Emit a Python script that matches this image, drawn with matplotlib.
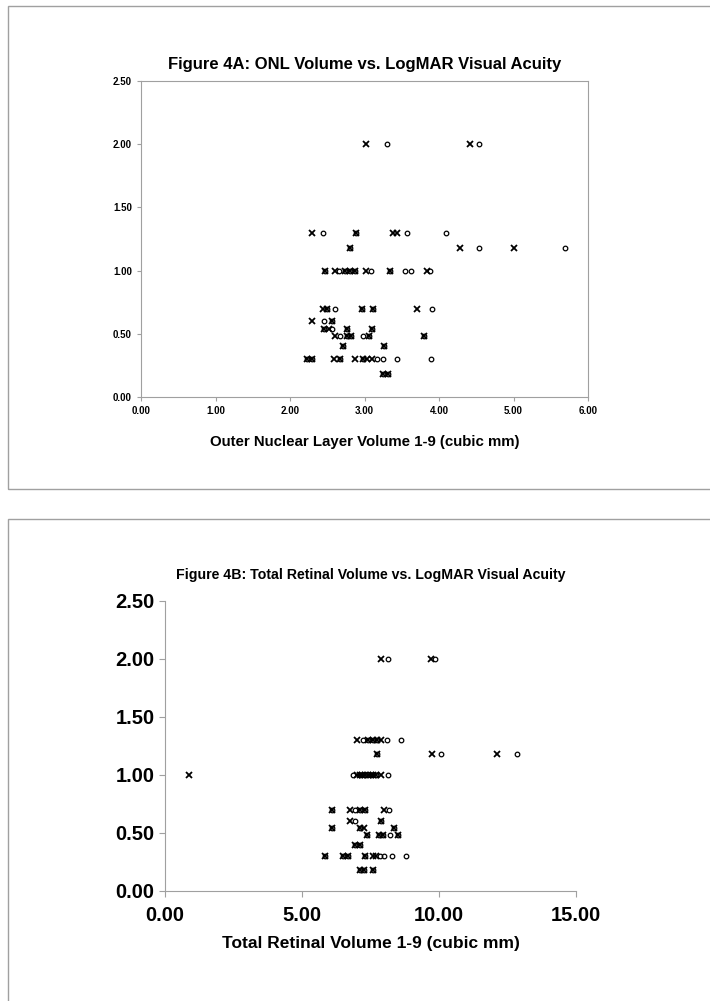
import matplotlib
matplotlib.use("Agg")
import matplotlib.pyplot as plt
from matplotlib.patches import Rectangle

plt.rcParams['font.family'] = ['Liberation Sans', 'DejaVu Sans']
plt.rcParams['font.weight'] = 'bold'

# Figure 4A: ONL volume (cubic mm) vs LogMAR, two marker series
onl_x_vol = [3.02, 4.42,
             2.30, 2.89, 3.38, 3.43,
             2.81, 4.28, 5.01,
             2.47, 2.60, 2.74, 2.80, 2.87, 3.02, 3.34, 3.84,
             2.44, 2.50, 2.96, 3.11, 3.70,
             2.30, 2.56,
             2.46, 2.52, 2.76, 3.10,
             2.60, 2.76, 2.82, 3.06, 3.80,
             2.71, 3.26,
             2.23, 2.30, 2.59, 2.67, 2.87, 2.98, 3.03, 3.10,
             3.25, 3.31]
onl_x_va = [2.00] * 2 + [1.30] * 4 + [1.18] * 3 + [1.00] * 8 + [0.70] * 5 + \
           [0.60] * 2 + [0.54] * 4 + [0.48] * 5 + [0.40] * 2 + [0.30] * 8 + [0.18] * 2

onl_o_vol = [3.30, 4.54,
             2.44, 2.89, 3.57, 4.09,
             2.81, 4.54, 5.69,
             2.47, 2.66, 2.74, 2.80, 2.87, 3.09, 3.34, 3.54, 3.62, 3.88,
             2.50, 2.60, 2.96, 3.11, 3.90,
             2.45, 2.56,
             2.46, 2.56, 2.76, 3.10,
             2.67, 2.76, 2.82, 2.98, 3.06, 3.80,
             2.71, 3.26,
             2.23, 2.30, 2.67, 2.98, 3.17, 3.25, 3.44, 3.89,
             3.25, 3.31]
onl_o_va = [2.00] * 2 + [1.30] * 4 + [1.18] * 3 + [1.00] * 10 + [0.70] * 5 + \
           [0.60] * 2 + [0.54] * 4 + [0.48] * 6 + [0.40] * 2 + [0.30] * 8 + [0.18] * 2

# Figure 4B: total retinal volume (cubic mm) vs LogMAR
trv_x_vol = [7.87, 9.69,
             6.99, 7.40, 7.58, 7.72, 7.87,
             7.72, 9.76, 12.13,
             0.87, 7.0, 7.1, 7.2, 7.3, 7.4, 7.5, 7.6, 7.7, 7.9,
             6.08, 6.74, 7.1, 7.3, 8.01,
             6.74, 7.87,
             6.08, 7.1, 7.25, 8.34,
             7.36, 7.8, 7.97, 8.52,
             6.92, 7.1,
             5.83, 6.5, 6.67, 7.29, 7.58, 7.7,
             7.1, 7.25, 7.58]
trv_x_va = [2.00] * 2 + [1.30] * 5 + [1.18] * 3 + [1.00] * 10 + [0.70] * 5 + \
           [0.60] * 2 + [0.54] * 4 + [0.48] * 4 + [0.40] * 2 + [0.30] * 6 + [0.18] * 3

trv_o_vol = [8.13, 9.84,
             7.21, 7.40, 7.58, 7.72, 8.09, 8.60,
             7.72, 10.09, 12.86,
             6.85, 7.1, 7.3, 7.5, 7.7, 8.13,
             6.08, 6.92, 7.1, 7.3, 8.16,
             6.92, 7.87,
             6.08, 7.1, 8.34,
             7.36, 7.8, 7.97, 8.2, 8.52,
             6.92, 7.1,
             5.83, 6.5, 6.67, 7.29, 7.85, 8.0, 8.3, 8.78,
             7.1, 7.25, 7.58]
trv_o_va = [2.00] * 2 + [1.30] * 6 + [1.18] * 3 + [1.00] * 6 + [0.70] * 5 + \
           [0.60] * 2 + [0.54] * 3 + [0.48] * 5 + [0.40] * 2 + [0.30] * 8 + [0.18] * 3

W, H = 710, 1001
fig = plt.figure(figsize=(W / 100, H / 100), dpi=100)

# chart frames
fig.add_artist(Rectangle((8 / W, 1 - 489 / H), 720 / W, 483 / H, transform=fig.transFigure,
                         fill=False, ec='#a0a0a0', lw=1))
fig.add_artist(Rectangle((8 / W, 1 - 1010 / H), 720 / W, 491 / H, transform=fig.transFigure,
                         fill=False, ec='#a0a0a0', lw=1))


def px_axes(left, right, top, bottom):
    return fig.add_axes([left / W, 1 - bottom / H, (right - left) / W, (bottom - top) / H])


def draw(ax, xv, xy, ov, oy, ms_x, ms_o):
    ax.plot(xv, xy, 'x', color='black', ms=ms_x, mew=1.3, ls='none')
    ax.plot(ov, oy, 'o', mfc='none', mec='black', ms=ms_o, mew=0.9, ls='none')


# --- top chart ---
ax1 = px_axes(141, 588, 81, 397)
draw(ax1, onl_x_vol, onl_x_va, onl_o_vol, onl_o_va, 4.5, 3.3)
ax1.set_xlim(0, 6)
ax1.set_ylim(0, 2.5)
ax1.set_xticks([0, 1, 2, 3, 4, 5, 6])
ax1.set_yticks([0, 0.5, 1.0, 1.5, 2.0, 2.5])
ax1.xaxis.set_major_formatter(matplotlib.ticker.FormatStrFormatter('%.2f'))
ax1.yaxis.set_major_formatter(matplotlib.ticker.FormatStrFormatter('%.2f'))
for s in ax1.spines.values():
    s.set_color('#a0a0a0')
ax1.tick_params(colors='#a0a0a0', labelcolor='black', labelsize=7, length=3, width=0.8)
for lab in ax1.get_xticklabels() + ax1.get_yticklabels():
    lab.set_fontweight('bold')
ax1.set_title('Figure 4A: ONL Volume vs. LogMAR Visual Acuity', fontsize=12, fontweight='bold', pad=9)
ax1.set_xlabel('Outer Nuclear Layer Volume 1-9 (cubic mm)', fontsize=10.8, fontweight='bold', labelpad=14)

# --- bottom chart ---
ax2 = px_axes(165, 576, 601, 891)
draw(ax2, trv_x_vol, trv_x_va, trv_o_vol, trv_o_va, 4.5, 3.3)
ax2.set_xlim(0, 15)
ax2.set_ylim(0, 2.5)
ax2.set_xticks([0, 5, 10, 15])
ax2.set_yticks([0, 0.5, 1.0, 1.5, 2.0, 2.5])
ax2.xaxis.set_major_formatter(matplotlib.ticker.FormatStrFormatter('%.2f'))
ax2.yaxis.set_major_formatter(matplotlib.ticker.FormatStrFormatter('%.2f'))
ax2.spines['top'].set_visible(False)
ax2.spines['right'].set_visible(False)
for s in ax2.spines.values():
    s.set_color('#a0a0a0')
ax2.tick_params(colors='#a0a0a0', labelcolor='black', labelsize=14.5, length=4, width=0.8)
ax2.tick_params(axis='x', pad=7)
for lab in ax2.get_xticklabels() + ax2.get_yticklabels():
    lab.set_fontweight('bold')
ax2.set_title('Figure 4B: Total Retinal Volume vs. LogMAR Visual Acuity', fontsize=10.2, fontweight='bold', pad=16)
ax2.set_xlabel('Total Retinal Volume 1-9 (cubic mm)', fontsize=12.5, fontweight='bold', labelpad=8)

fig.savefig('out.png', dpi=100)
